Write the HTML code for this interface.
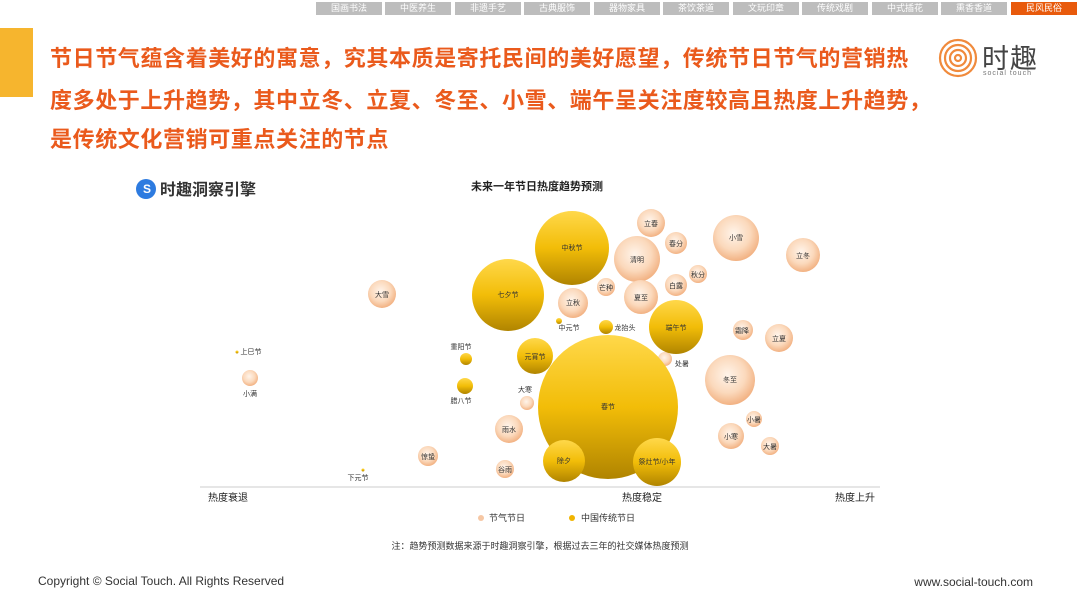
<!DOCTYPE html>
<html><head><meta charset="utf-8"><style>
body{margin:0;width:1080px;height:608px;background:#fff;overflow:hidden;font-family:"Liberation Sans","Noto Sans CJK SC",sans-serif;position:relative}
.tab{position:absolute;top:2px;height:13px;width:66px;background:#bdbdbd;color:#fff;font-size:9px;line-height:13px;text-align:center}
.t{position:absolute;left:50px;color:#ea5a1c;font-weight:bold;font-size:22px;letter-spacing:0.6px;white-space:nowrap}
</style></head><body>
<div class="tab" style="left:316px">国画书法</div>
<div class="tab" style="left:385px">中医养生</div>
<div class="tab" style="left:455px">非遗手艺</div>
<div class="tab" style="left:524px">古典服饰</div>
<div class="tab" style="left:594px">器物家具</div>
<div class="tab" style="left:663px">茶饮茶道</div>
<div class="tab" style="left:733px">文玩印章</div>
<div class="tab" style="left:802px">传统戏剧</div>
<div class="tab" style="left:872px">中式插花</div>
<div class="tab" style="left:941px">熏香香道</div>
<div class="tab" style="left:1011px;background:#e85a0c">民风民俗</div>
<div style="position:absolute;left:0;top:28px;width:33px;height:69px;background:#f6b52e"></div>
<div class="t" style="top:41px">节日节气蕴含着美好的寓意，究其本质是寄托民间的美好愿望，传统节日节气的营销热</div>
<div class="t" style="top:83px">度多处于上升趋势，其中立冬、立夏、冬至、小雪、端午呈关注度较高且热度上升趋势，</div>
<div class="t" style="top:122px">是传统文化营销可重点关注的节点</div>
<svg style="position:absolute;left:938px;top:38px" width="40" height="40" viewBox="0 0 40 40"><g fill="none" stroke="#f08a3c" stroke-width="2.2"><circle cx="20" cy="20" r="18"/><circle cx="20" cy="20" r="13"/><circle cx="20" cy="20" r="8"/><circle cx="20" cy="20" r="3"/></g></svg>
<div style="position:absolute;left:982px;top:37px;font-size:27px;color:#444;letter-spacing:1px">时趣</div>
<div style="position:absolute;left:983px;top:70px;font-size:7px;color:#777;letter-spacing:1px">social touch</div>
<svg width="1080" height="608" style="position:absolute;left:0;top:0" font-family="Liberation Sans,Noto Sans CJK SC,sans-serif">
<defs>
<linearGradient id="g" x1="0" y1="0" x2="0" y2="1"><stop offset="0" stop-color="#ffd84a"/><stop offset="0.5" stop-color="#f2bd08"/><stop offset="1" stop-color="#b08400"/></linearGradient>
<radialGradient id="p" cx="0.45" cy="0.4" r="0.6"><stop offset="0" stop-color="#fff4ea"/><stop offset="0.6" stop-color="#fbd9bc"/><stop offset="1" stop-color="#f2b283"/></radialGradient>
</defs>
<circle cx="146" cy="189" r="10" fill="#2d7be0"/><text x="143" y="193" font-size="12" fill="#fff" font-weight="bold">S</text>
<text x="160" y="195" font-size="16" fill="#333" font-weight="bold">时趣洞察引擎</text>
<text x="537" y="190" font-size="11" fill="#222" font-weight="bold" text-anchor="middle">未来一年节日热度趋势预测</text>
<line x1="200" y1="487" x2="880" y2="487" stroke="#ddd" stroke-width="1.5"/>
<g fill="url(#p)">
<circle cx="651" cy="223" r="14"/><circle cx="676" cy="243" r="11"/><circle cx="736" cy="238" r="23"/><circle cx="803" cy="255" r="17"/>
<circle cx="637" cy="259" r="23"/><circle cx="698" cy="274" r="9"/><circle cx="676" cy="285" r="11"/><circle cx="606" cy="287" r="9"/>
<circle cx="641" cy="297" r="17"/><circle cx="573" cy="303" r="15"/><circle cx="382" cy="294" r="14"/><circle cx="743" cy="330" r="10"/>
<circle cx="779" cy="338" r="14"/><circle cx="665" cy="359" r="7"/><circle cx="730" cy="380" r="25"/><circle cx="527" cy="403" r="7"/>
<circle cx="509" cy="429" r="14"/><circle cx="754" cy="419" r="8"/><circle cx="731" cy="436" r="13"/><circle cx="770" cy="446" r="9"/>
<circle cx="428" cy="456" r="10"/><circle cx="505" cy="469" r="9" /><circle cx="250" cy="378" r="8"/>
</g>
<g fill="url(#g)">
<circle cx="572" cy="248" r="37"/><circle cx="508" cy="295" r="36"/><ellipse cx="608" cy="407" rx="70" ry="72"/>
<circle cx="676" cy="327" r="27"/><circle cx="535" cy="356" r="18"/><circle cx="564" cy="461" r="21"/><circle cx="657" cy="462" r="24"/>
<circle cx="465" cy="386" r="8"/><circle cx="466" cy="359" r="6"/><circle cx="606" cy="327" r="7"/><circle cx="559" cy="321" r="3"/>
<circle cx="363" cy="470" r="1.5"/><circle cx="237" cy="352" r="1.5"/>
</g>
<g font-size="7" fill="#333" text-anchor="middle">
<text x="572" y="250">中秋节</text><text x="508" y="297">七夕节</text><text x="608" y="409">春节</text><text x="676" y="330">端午节</text>
<text x="535" y="359">元宵节</text><text x="564" y="463">除夕</text><text x="657" y="464">祭灶节/小年</text>
<text x="461" y="349">重阳节</text><text x="461" y="403">腊八节</text><text x="625" y="330">龙抬头</text><text x="569" y="330">中元节</text>
<text x="358" y="480">下元节</text><text x="251" y="354">上巳节</text>
<text x="651" y="226">立春</text><text x="676" y="246">春分</text><text x="736" y="240">小雪</text><text x="803" y="258">立冬</text>
<text x="637" y="262">清明</text><text x="698" y="277">秋分</text><text x="676" y="288">白露</text><text x="606" y="290">芒种</text>
<text x="641" y="300">夏至</text><text x="573" y="305">立秋</text><text x="382" y="297">大雪</text><text x="742" y="333">霜降</text>
<text x="779" y="341">立夏</text><text x="682" y="366">处暑</text><text x="730" y="382">冬至</text><text x="525" y="392">大寒</text>
<text x="509" y="432">雨水</text><text x="754" y="422">小暑</text><text x="731" y="439">小寒</text><text x="770" y="449">大暑</text>
<text x="428" y="459">惊蛰</text><text x="505" y="472">谷雨</text><text x="250" y="396">小满</text>
</g>
<g font-size="10" fill="#222" text-anchor="middle">
<text x="228" y="501">热度衰退</text><text x="642" y="501">热度稳定</text><text x="855" y="501">热度上升</text>
</g>
<circle cx="481" cy="518" r="3" fill="#f6c7a4"/><text x="489" y="521" font-size="9" fill="#333">节气节日</text>
<circle cx="572" cy="518" r="3" fill="#f0b400"/><text x="581" y="521" font-size="9" fill="#333">中国传统节日</text>
<text x="540" y="549" font-size="9" fill="#333" text-anchor="middle">注：趋势预测数据来源于时趣洞察引擎，根据过去三年的社交媒体热度预测</text>
<text x="38" y="585" font-size="12" fill="#333">Copyright © Social Touch. All Rights Reserved</text>
<text x="1033" y="586" font-size="12" fill="#333" text-anchor="end">www.social-touch.com</text>
</svg>
</body></html>
